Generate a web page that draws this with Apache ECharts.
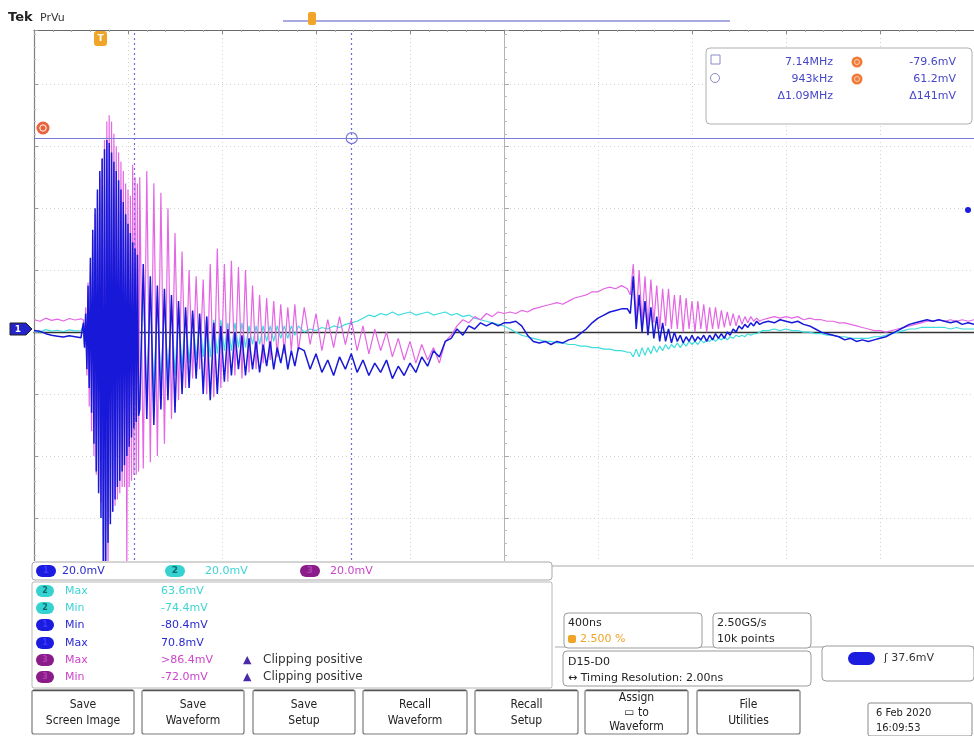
<!DOCTYPE html>
<html><head><meta charset="utf-8">
<script src="https://cdn.jsdelivr.net/npm/echarts@6/dist/echarts.min.js"></script>
<style>html,body{margin:0;padding:0;background:#fff}#c{width:974px;height:736px}</style>
</head><body><div id="c"></div>
<script>
// ---- sample times (ns) ----
const timeNs = [
 -2000,-1975,-1950,-1925,-1900,-1875,-1850,-1825,-1800,
 -1790,-1785,-1780,-1775,-1770,-1765,-1760,-1755,-1750,-1745,-1740,-1735,-1730,-1725,-1720,-1715,-1710,-1705,-1700,-1695,-1690,-1685,-1680,-1675,-1670,-1665,-1660,-1655,-1650,-1645,-1640,-1635,-1630,-1625,-1620,-1615,-1610,-1605,-1600,-1595,-1590,-1585,-1580,-1575,-1570,-1565,-1560,-1555,-1550,
 -1535,-1520,-1505,-1490,-1475,-1460,-1445,-1430,-1415,-1400,-1385,-1370,-1355,-1340,-1325,-1310,-1295,-1280,-1265,-1250,-1235,-1220,-1205,-1190,-1175,-1160,-1145,-1130,-1115,-1100,-1085,-1070,-1055,-1040,-1025,-1010,-995,-980,-965,-950,-935,-920,-905,-890,-875,
 -850,-825,-800,-775,-750,-725,-700,-675,-650,-625,-600,-575,-550,-525,-500,-475,-450,-425,-400,-375,-350,-325,-300,-275,-250,-225,-200,-175,-150,-125,-100,-75,-50,-25,0,
 25,50,75,100,125,150,175,200,225,250,275,300,325,350,375,400,425,450,475,500,525,
 537.5,550,562.5,575,587.5,600,612.5,625,637.5,650,662.5,675,687.5,700,712.5,725,737.5,750,762.5,775,787.5,800,812.5,825,837.5,850,862.5,875,887.5,900,912.5,925,937.5,950,962.5,975,987.5,1000,1012.5,1025,1037.5,1050,1062.5,1075,1087.5,
 1100,1125,1150,1175,1200,1225,1250,1275,1300,1325,1350,1375,1400,1425,1450,1475,1500,1525,1550,1575,1600,1625,1650,1675,1700,1725,1750,1775,1800,1825,1850,1875,1900,1925,1950,1975,2000
];
// ---- channel 1 (blue), mV ----
const ch1 = [
 0.5,0.3,-0.5,-1.0,-1.3,-1.6,-1.2,-1.5,-1.8,
 3,-5,6,-12,15,-18,24,-26,33,-36,40,-45,46,-52,52,-60,56,-85,59,-85,62,-68,61,-62,58,-58,55,-54,52,-50,49,-48,46,-45,42,-43,38,-40,35,-37,32,-34,29,-31,27,-29,25,-27,-25,
 22,-28,18,-30,15,-25,14,-22,12,-26,10,-20,8,-18,7,-15,6,-20,5,-22,3,-20,2,-16,1,-14,0,-12,-1,-14,-2,-12,-3,-13,-4,-11,-3,-12,-5,-10,-4,-12,-6,-11,-5,
 -6,-12,-7,-13,-9,-14,-8,-12,-7,-13,-9,-14,-10,-13,-9,-15,-11,-14,-10,-13,-8,-11,-6,-8,-3,-2,1,-1,2,1,3,2,3,2,3,
 3,3.5,2,-1,-3,-3.5,-3,-4,-3,-3.5,-2.5,-2,-0.5,1,3,4.5,5.5,6.5,7,7.5,7.5,
 6,18,1,12,0,10,-1,8,-2,5,-3,3,-3,1,-3.5,0,-3,-1,-3.5,-1.5,-3,-1,-3,-1.5,-2.5,-1,-3,-1,-2.5,-0.5,-2,-0.5,-2,0,-1,1,0,2,1,2.5,1.5,3,2,3.5,2.5,
 3,3.5,3,4,3.5,3,3.5,2.5,2,1,0,-0.5,-1,-1.5,-2.5,-2,-3,-2.5,-3,-2.5,-2,-1.5,-0.5,0.5,1.5,2.5,3,3.5,4,3.5,4,3.5,3,3.5,2.5,3,2.5
];
// ---- channel 2 (cyan), mV ----
const ch2 = [
 0.5,0,0.8,0.3,0.6,0.2,0.7,0.4,0.5,
 2,-4,5,-10,12,-15,19,-21,26,-29,32,-36,37,-42,42,-48,45,-60,47,-62,50,-55,49,-50,46,-46,44,-43,42,-40,39,-38,37,-36,34,-34,30,-32,28,-30,26,-27,23,-25,22,-23,20,-22,-20,
 16,-22,14,-20,12,-18,10,-15,9,-14,8,-12,7,-10,6,-9,5,-8,5,-8,4,-7,4,-6,3,-6,3,-5,3,-5,2,-4,2,-4,2,-3,2,-3,2,-2,2,-2,2,-1,2,
 0,1,0.5,1.5,1,2,1.5,2.5,3,3.5,4.5,5.5,5,6,5.5,6.5,5.5,6,6.5,5.5,6,6.5,5.5,6,6.5,5.5,6,5,5.5,4.5,4,3.5,3,2.5,2,
 1,0,-1,-1.5,-2,-2.5,-3,-3,-3.5,-3.5,-4,-4,-4.5,-4.5,-5,-5,-5.5,-5.5,-6,-6,-6.5,
 -6.5,-8,-5.5,-8,-5,-7.5,-5,-7,-4.5,-6.5,-4.5,-6,-4,-5.5,-4,-5,-3.5,-5,-3.5,-4.5,-3,-4,-3,-4,-2.5,-3.5,-2.5,-3,-2,-3,-2,-2.5,-1.5,-2.5,-1.5,-2,-1,-1.5,-1,-1.5,-0.5,-1,-0.5,-0.5,0,
 0.5,0.5,1,0.5,1,0.5,0.5,0,0,-0.5,-0.5,-1,-1,-1.5,-1.5,-2,-2,-2,-2,-1.5,-1.5,-1,-0.5,0,0.5,1,1,1.5,1.5,1.5,1.5,1.5,1,1.5,1,1,1
];
// ---- channel 3 (magenta), mV ----
const ch3 = [
 4,3.5,4.5,3.8,4.2,3.6,4.4,3.9,4.3,
 4,-4,8,-14,16,-24,22,-32,30,-40,38,-46,45,-50,50,-55,56,-60,62,-64,68,-82,70,-60,68,-58,64,-56,60,-54,58,-52,55,-50,52,-50,48,-78,46,-50,44,-48,54,-46,50,-46,48,-45,50,
 -44,52,-42,48,-40,45,-36,40,-28,32,-22,26,-18,20,-15,18,-12,17,-20,22,-21,27,-18,22,-16,23,-14,21,-15,20,-13,15,-12,12,-10,11,-9,10,-8,9,-7,8,-6,9,-6,
 8,-4,6,-6,4,-5,5,-4,4,-6,2,-7,1,-6,0,-8,-2,-9,-3,-10,-4,-9,-5,-10,-3,-1,2,4,3,5,4,6,5,6.5,6,
 6.5,6,7,6.5,7.5,8,8.5,9,9.5,9,10,11,11.5,12,13,13,14,14.5,14,15,14,
 12,22,4,20,3,18,2,17,3,15,1,14,2,14,1,12,1,12,0,11,1,10,0,10,1,9,0,8,1,8,1,7,1.5,6.5,2,6,2,5.5,2.5,5,3,5,3.5,4.5,3.5,
 4,4.5,5,4.5,5,4.5,5,4,4.5,4,4,3.5,3.5,3,3,2.5,2,1.5,1,0.5,0.5,0,0.5,1,1.5,2,2.5,3,3.5,3.5,4,3.5,4,3.5,4,3.5,4
];
// ---- cursors ----
const cursorTimesNs = [-1575, -648];
const cursorLevelMv = 62.6;
// ---- readouts ----
const cursorReadout = [['7.14MHz','-79.6mV'],['943kHz','61.2mV'],['\u03941.09MHz','\u0394141mV']];
const chScales = ['20.0mV','20.0mV','20.0mV'];
const measRows = [
 ['2','Max','63.6mV',''],
 ['2','Min','-74.4mV',''],
 ['1','Min','-80.4mV',''],
 ['1','Max','70.8mV',''],
 ['3','Max','>86.4mV','Clipping positive'],
 ['3','Min','-72.0mV','Clipping positive']
];
const buttons = [['Save','Screen Image'],['Save','Waveform'],['Save','Setup'],['Recall','Waveform'],['Recall','Setup'],['Assign','\u25AD to','Waveform'],['File','Utilities']];

const chColor = {'1':{badge:'#1c1ce0',text:'#2a2ad0',num:'#3a3aff'}, '2':{badge:'#36d2d2',text:'#3ed4d4',num:'#0b6b6b'}, '3':{badge:'#8a1c8a',text:'#cc44cc',num:'#b040b0'}};

const F = '"DejaVu Sans", sans-serif';
const FC = '"DejaVu Sans Condensed", "DejaVu Sans", sans-serif';
const G = [];
function rect(x,y,w,h,o){o=o||{};G.push({type:'rect',silent:true,z:o.z||60,shape:{x:x,y:y,width:w,height:h,r:o.r||0},style:{fill:o.fill===undefined?'#fff':o.fill,stroke:o.stroke||null,lineWidth:o.lw||1}});}
function circ(cx,cy,r,o){o=o||{};G.push({type:'circle',silent:true,z:o.z||61,shape:{cx:cx,cy:cy,r:r},style:{fill:o.fill||null,stroke:o.stroke||null,lineWidth:o.lw||1}});}
function ln(x1,y1,x2,y2,o){o=o||{};G.push({type:'line',silent:true,z:o.z||60,shape:{x1:x1,y1:y1,x2:x2,y2:y2},style:{stroke:o.stroke||'#999',lineWidth:o.lw||1}});}
function txt(x,y,s,o){o=o||{};G.push({type:'text',silent:true,z:o.z||62,x:x,y:y,style:{text:s,fill:o.fill||'#222',font:(o.bold?'bold ':'')+(o.size||11)+'px '+(o.font||F),align:o.align||'left',verticalAlign:o.va||'middle',lineHeight:o.lh||14}});}

// top bar
txt(8,18,'Tek',{bold:true,size:13,fill:'#222'});
txt(40,18,'PrVu',{size:11,fill:'#333'});
ln(283,21,730,21,{stroke:'#8c8cd8',lw:1.5});
rect(308,12,8,13,{r:2,fill:'#f0a428'});
rect(94,31,13,15,{r:3,fill:'#f0a428'});
txt(100.5,39,'T',{size:9,bold:true,fill:'#fff',align:'center'});
circ(43,128,6.5,{fill:'#e8623c'});
circ(43,128,3.2,{stroke:'#fff',lw:1});
// ch1 marker
G.push({type:'polygon',silent:true,z:61,shape:{points:[[10,323],[26,323],[32,329],[26,335],[10,335]]},style:{fill:'#2424c8',stroke:'#222',lineWidth:1}});
txt(18,329.5,'1',{size:9,bold:true,fill:'#fff',align:'center'});
circ(968,210,3,{fill:'#1c1ce0'});

// cursor readout
rect(706,48,266,76,{r:4,stroke:'#b0b0b0'});
rect(711,55,9,9,{fill:null,stroke:'#8a8ac8'});
circ(715,78,4.5,{stroke:'#8a8ac8'});
const rY=[62,79,96];
cursorReadout.forEach((r,i)=>{
  txt(833,rY[i],r[0],{fill:'#4646c8',align:'right'});
  txt(956,rY[i],r[1],{fill:'#4646c8',align:'right'});
  if(i<2){circ(857,rY[i],5.5,{fill:'#f07a3a'});circ(857,rY[i],2.5,{stroke:'#ffd0b0'});}
});

// bottom area cover
rect(0,561,974,175,{fill:'#fff',z:55});
ln(552,566,974,566,{stroke:'#aaa'});
rect(32,562,520,18,{r:3,stroke:'#a8a8a8'});
[['1',36,62],['2',165,205],['3',300,330]].forEach((b,i)=>{
  const c=chColor[b[0]];
  rect(b[1],565,20,12,{r:6,fill:c.badge,z:61});
  txt(b[1]+10,571,b[0],{size:9,bold:true,fill:c.num,align:'center'});
  txt(b[2],571,chScales[i],{fill:c.text});
});
rect(32,582,520,106,{r:2,stroke:'#b8b8b8'});
const mY=[591,608,625,643,660,677];
measRows.forEach((m,i)=>{
  const c=chColor[m[0]];
  rect(36,mY[i]-6,18,12,{r:6,fill:c.badge,z:61});
  txt(45,mY[i],m[0],{size:8,bold:true,fill:c.num,align:'center'});
  txt(65,mY[i],m[1],{fill:c.text});
  txt(161,mY[i],m[2],{fill:c.text});
  if(m[3]){txt(243,mY[i],'\u25B2',{fill:'#4a2aa8',size:11});txt(263,mY[i],m[3],{fill:'#333',size:12});}
});

// acquisition / timing boxes
ln(555,647,974,647,{stroke:'#aaa'});
rect(564,613,138,35,{r:4,stroke:'#9a9a9a'});
txt(568,623,'400ns',{size:11});
rect(568,635,8,8,{r:2,fill:'#f0a428'});
txt(580,639,'2.500 %',{size:11,fill:'#f0a428'});
rect(713,613,98,35,{r:4,stroke:'#9a9a9a'});
txt(717,623,'2.50GS/s',{size:11});
txt(717,639,'10k points',{size:11});
rect(563,651,248,35,{r:4,stroke:'#9a9a9a'});
txt(568,662,'D15-D0',{size:11});
txt(568,678,'\u2194 Timing Resolution: 2.00ns',{size:11});
rect(822,646,152,35,{r:4,stroke:'#9a9a9a'});
rect(848,652,27,13,{r:6.5,fill:'#1c1ce0',z:61});
txt(884,658,'\u0283 37.6mV',{size:11,fill:'#333'});

// soft buttons
const bx=[[32,102],[142,102],[253,102],[363,104],[475,103],[585,103],[697,103]];
buttons.forEach((b,i)=>{
  rect(bx[i][0],690,bx[i][1],44,{r:2,stroke:'#7a7a7a',lw:1.2});
  ln(bx[i][0]+1,690.5,bx[i][0]+bx[i][1]-1,690.5,{stroke:'#555',lw:1.5,z:61});
  txt(bx[i][0]+bx[i][1]/2,712.5,b.join('\n'),{font:FC,size:12,align:'center',lh:b.length>2?14.5:16,fill:'#222'});
});
rect(868,703,104,33,{r:2,stroke:'#8a8a8a'});
txt(876,713,'6 Feb 2020',{font:FC,size:11});
txt(876,728,'16:09:53',{font:FC,size:11});

function pairs(v){return timeNs.map((t,i)=>[t,v[i]]);}
const chart = echarts.init(document.getElementById('c'),null,{renderer:'canvas'});
const dotted = {color:'#d2d2d2',type:[1,3],width:1};
chart.setOption({
  animation:false,
  backgroundColor:'#fff',
  grid:{left:34,top:30,width:941,height:550,show:false},
  xAxis:[
    {type:'value',min:-2000,max:2000,interval:400,
     axisLine:{show:true,onZero:true,onZeroAxisIndex:0,lineStyle:{color:'#333',width:1.3}},
     axisTick:{show:false},axisLabel:{show:false},splitLine:{show:true,lineStyle:dotted}},
    {type:'value',position:'top',min:-2000,max:2000,interval:400,
     axisLine:{show:true,onZero:false,lineStyle:{color:'#6a6a6a',width:1.2}},
     axisTick:{show:true,inside:true,length:4,lineStyle:{color:'#888'}},
     minorTick:{show:true,splitNumber:5,length:2,lineStyle:{color:'#aaa'}},
     axisLabel:{show:false},splitLine:{show:false}}
  ],
  yAxis:[
    {type:'value',min:-80,max:97.5,interval:20,
     axisLine:{show:true,onZero:true,onZeroAxisIndex:0,lineStyle:{color:'#b4b4b4'}},
     axisTick:{show:true,inside:true,length:5,lineStyle:{color:'#aaa'}},
     minorTick:{show:true,splitNumber:5,length:3,lineStyle:{color:'#bbb'}},
     axisLabel:{show:false},splitLine:{show:true,lineStyle:dotted}},
    {type:'value',position:'left',min:-80,max:97.5,interval:20,
     axisLine:{show:true,onZero:false,lineStyle:{color:'#808080',width:1.2}},
     axisTick:{show:true,inside:true,length:4,lineStyle:{color:'#999'}},
     minorTick:{show:true,splitNumber:5,length:2,lineStyle:{color:'#bbb'}},
     axisLabel:{show:false},splitLine:{show:false}}
  ],
  series:[
    {name:'CH2',type:'line',data:pairs(ch2),showSymbol:false,symbol:'none',z:3,
     lineStyle:{color:'#3edcdc',width:1.2},itemStyle:{color:'#3edcdc'}},
    {name:'CH3',type:'line',data:pairs(ch3),showSymbol:false,symbol:'none',z:4,
     lineStyle:{color:'#e466e4',width:1.2},itemStyle:{color:'#e466e4'}},
    {name:'CH1',type:'line',data:pairs(ch1),showSymbol:false,symbol:'none',z:5,
     lineStyle:{color:'#1818d8',width:1.5},itemStyle:{color:'#1818d8'},
     markLine:{silent:true,symbol:'none',label:{show:false},
       data:[
        {yAxis:cursorLevelMv,lineStyle:{color:'#7a7ad8',type:'solid',width:1}},
        {xAxis:cursorTimesNs[0],lineStyle:{color:'#6c6cdc',type:[2,3],width:1.2}},
        {xAxis:cursorTimesNs[1],lineStyle:{color:'#6c6cdc',type:[2,3],width:1.2}}
       ]},
     markPoint:{silent:true,symbol:'circle',symbolSize:11,label:{show:false},
       itemStyle:{color:'rgba(255,255,255,0)',borderColor:'#7a7ad8',borderWidth:1.2},
       data:[{coord:[cursorTimesNs[1],cursorLevelMv]}]}}
  ],
  graphic:{elements:G}
});
</script></body></html>
